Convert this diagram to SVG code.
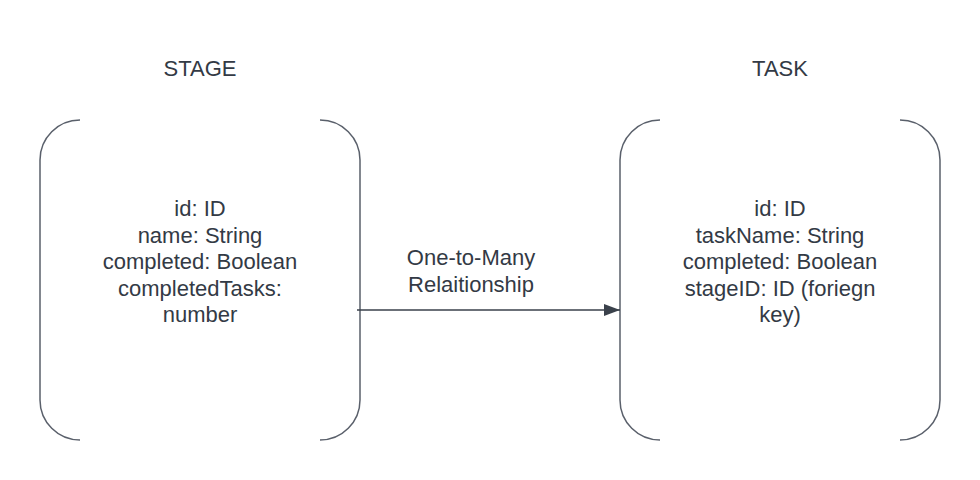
<svg xmlns="http://www.w3.org/2000/svg" width="980" height="480" viewBox="0 0 980 480">
<defs>
<style>
.t{font-family:"Liberation Sans",Arial,sans-serif;font-size:22px;fill:#333a45;text-anchor:middle}
.br{fill:none;stroke:#5a606b;stroke-width:1.5}
.ln{fill:none;stroke:#3a414b;stroke-width:1.5}
</style>
<marker id="ah" markerWidth="16" markerHeight="12" refX="16" refY="6" orient="auto" markerUnits="userSpaceOnUse">
<path d="M0,0 L16,6 L0,12 Z" fill="#3a414b"/>
</marker>
</defs>
<rect width="980" height="480" fill="#ffffff"/>
<g id="stage">
<text class="t" x="200" y="76">STAGE</text>
<path class="br" d="M80,120 A40,40 0 0 0 40,160 L40,400 A40,40 0 0 0 80,440"/>
<path class="br" d="M320,120 A40,40 0 0 1 360,160 L360,400 A40,40 0 0 1 320,440"/>
<text class="t" x="200" y="216">id: ID</text>
<text class="t" x="200" y="242.5">name: String</text>
<text class="t" x="200" y="269">completed: Boolean</text>
<text class="t" x="200" y="295.5">completedTasks:</text>
<text class="t" x="200" y="322">number</text>
</g>
<g id="task">
<text class="t" x="780" y="76">TASK</text>
<path class="br" d="M660,120 A40,40 0 0 0 620,160 L620,400 A40,40 0 0 0 660,440"/>
<path class="br" d="M900,120 A40,40 0 0 1 940,160 L940,400 A40,40 0 0 1 900,440"/>
<text class="t" x="780" y="216">id: ID</text>
<text class="t" x="780" y="242.5">taskName: String</text>
<text class="t" x="780" y="269">completed: Boolean</text>
<text class="t" x="780" y="295.5">stageID: ID (foriegn</text>
<text class="t" x="780" y="322">key)</text>
</g>
<g id="connectors">
<line class="ln" x1="357" y1="310" x2="620" y2="310" marker-end="url(#ah)"/>
<text class="t" x="471" y="265">One-to-Many</text>
<text class="t" x="471" y="291.5">Relaitionship</text>
</g>
</svg>
